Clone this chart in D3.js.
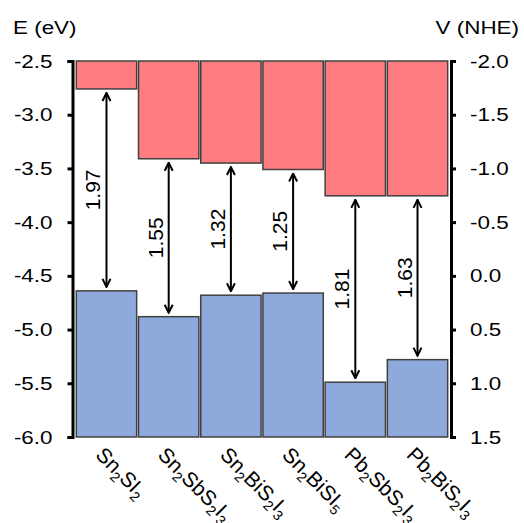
<!DOCTYPE html>
<html>
<head>
<meta charset="utf-8">
<script src="https://cdn.jsdelivr.net/npm/d3@7"></script>
<style>
body { margin: 0; background: #fff; }
text { font-family: "Liberation Sans", Arial, sans-serif; fill: #000; }
</style>
</head>
<body>
<div id="chart"></div>
<script>
// compound names: [text, isSubscript]
var compounds = [
  [["Sn",0],["2",1],["SI",0],["2",1]],
  [["Sn",0],["2",1],["SbS",0],["2",1],["I",0],["3",1]],
  [["Sn",0],["2",1],["BiS",0],["2",1],["I",0],["3",1]],
  [["Sn",0],["2",1],["BiSI",0],["5",1]],
  [["Pb",0],["2",1],["SbS",0],["2",1],["I",0],["3",1]],
  [["Pb",0],["2",1],["BiS",0],["2",1],["I",0],["3",1]]
];
var cbm = [-2.76, -3.41, -3.45, -3.51, -3.755, -3.755];
var vbm = [-4.64, -4.88, -4.68, -4.66, -5.49, -5.28];
var gaps = ["1.97", "1.55", "1.32", "1.25", "1.81", "1.63"];
var eTicks = [-2.5, -3.0, -3.5, -4.0, -4.5, -5.0, -5.5, -6.0];
var vTicks = [-2.0, -1.5, -1.0, -0.5, 0.0, 0.5, 1.0, 1.5];

var W = 524, H = 523;
var plotTop = 61, plotBottom = 437, leftX = 72.5, rightX = 451;
var stretch = 1.18;

var svg = d3.select("#chart").append("svg").attr("width", W).attr("height", H);

var x = d3.scaleBand().domain(d3.range(compounds.length)).range([76, 448]).paddingInner(0.03).paddingOuter(0.005);
var yE = d3.scaleLinear().domain([-2.5, -6.0]).range([plotTop, plotBottom]);
var yV = d3.scaleLinear().domain([-2.0, 1.5]).range([plotTop, plotBottom]);

// conduction band bars
svg.selectAll(".cb").data(cbm).enter().append("rect")
  .attr("x", function(d, i) { return x(i); })
  .attr("width", x.bandwidth())
  .attr("y", yE(-2.5))
  .attr("height", function(d) { return yE(d) - yE(-2.5); })
  .attr("fill", "#FF7C80").attr("stroke", "#404040").attr("stroke-width", 1.5);

// valence band bars
svg.selectAll(".vb").data(vbm).enter().append("rect")
  .attr("x", function(d, i) { return x(i); })
  .attr("width", x.bandwidth())
  .attr("y", function(d) { return yE(d); })
  .attr("height", function(d) { return yE(-6.0) - yE(d); })
  .attr("fill", "#8EA9DB").attr("stroke", "#404040").attr("stroke-width", 1.5);

// axes
var fmt = function(d) { return d3.format(".1f")(d).replace("\u2212", "-"); };
var axL = d3.axisLeft(yE).tickValues(eTicks).tickFormat(fmt).tickSize(5).tickSizeOuter(5).tickPadding(15);
var axR = d3.axisRight(yV).tickValues(vTicks).tickFormat(fmt).tickSize(5).tickSizeOuter(5).tickPadding(14);
function styleAxis(g) {
  g.select(".domain").attr("stroke", "#000").attr("stroke-width", 3);
  g.selectAll(".tick line").attr("stroke", "#000").attr("stroke-width", 3);
  g.selectAll(".tick text").style("font-size", "19px").attr("fill", "#000")
    .attr("x", function() { return +d3.select(this).attr("x") / stretch; })
    .attr("transform", "scale(" + stretch + ",1)");
}
svg.append("g").attr("transform", "translate(" + leftX + ",0)").call(axL).call(styleAxis);
svg.append("g").attr("transform", "translate(" + rightX + ",0)").call(axR).call(styleAxis);

svg.append("text").attr("transform", "translate(13,34) scale(" + stretch + ",1)")
  .style("font-size", "19px").text("E (eV)");
svg.append("text").attr("transform", "translate(519,34) scale(" + stretch + ",1)")
  .attr("text-anchor", "end").style("font-size", "19px").text("V (NHE)");

// gap arrows
svg.append("defs").append("marker").attr("id", "ah")
  .attr("viewBox", "0 0 10 10").attr("refX", 9).attr("refY", 5)
  .attr("markerWidth", 10).attr("markerHeight", 11).attr("markerUnits", "userSpaceOnUse")
  .attr("orient", "auto-start-reverse")
  .append("path").attr("d", "M1,1L9,5L1,9").attr("fill", "none").attr("stroke", "#000").attr("stroke-width", 2);

cbm.forEach(function(c, i) {
  var cx = x(i) + x.bandwidth() / 2;
  var y1 = yE(c) + 4, y2 = yE(vbm[i]) - 4;
  svg.append("line").attr("x1", cx).attr("x2", cx).attr("y1", y1).attr("y2", y2)
    .attr("stroke", "#000").attr("stroke-width", 2)
    .attr("marker-start", "url(#ah)").attr("marker-end", "url(#ah)");
  var my = (y1 + y2) / 2;
  svg.append("text").attr("transform", "translate(" + (cx - 6) + "," + my + ") rotate(-90)")
    .attr("text-anchor", "middle").style("font-size", "21px").text(gaps[i]);
});

// category labels
compounds.forEach(function(parts, i) {
  var cx = x(i) + x.bandwidth() / 2 - 12;
  var t = svg.append("text").attr("transform", "translate(" + cx + ",456) rotate(45)").style("font-size", "21px");
  parts.forEach(function(p) {
    t.append("tspan").text(p[0])
      .style("font-size", p[1] ? "14px" : "21px")
      .attr("baseline-shift", p[1] ? "-5" : null);
  });
});
</script>
</body>
</html>
